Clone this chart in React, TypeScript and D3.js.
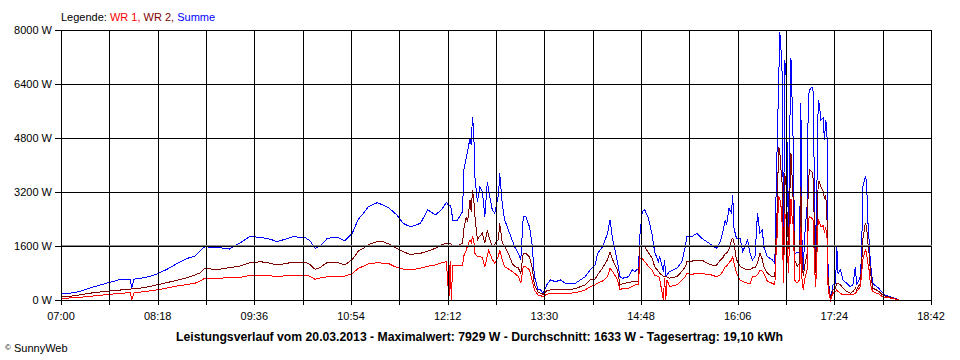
import React from 'react';
import * as d3 from 'd3';

// minutes after 07:00
const minutes = [
  0, 7, 15, 26, 37, 48, 56, 57, 59, 64, 72, 77, 86, 94, 102, 108, 112, 116, 123, 130,
  136, 144, 152, 161, 169, 174, 181, 187, 197, 201, 205, 209, 215, 223, 229, 235, 240, 244, 248, 255,
  260, 265, 271, 276, 282, 290, 296, 302, 307, 311, 313, 314, 315, 316, 320, 324, 325, 327, 328, 330,
  331, 332, 333, 334, 336, 338, 340, 342, 344, 345, 348, 350, 353, 354, 356, 358, 361, 364, 366, 369,
  371, 373, 375, 378, 380, 382, 385, 387, 389, 392, 395, 399, 403, 407, 411, 415, 419, 423, 427, 431,
  433, 437, 441, 443, 445, 449, 451, 453, 458, 461, 463, 466, 467, 469, 471, 474, 477, 479, 482, 483,
  486, 487, 488, 489, 491, 497, 501, 504, 505, 509, 513, 517, 521, 525, 529, 532, 534, 536, 537, 539,
  541, 542, 543, 545, 548, 550, 554, 556, 558, 560, 562, 564, 566, 567, 570, 574, 576, 577, 578, 579,
  580, 581, 582, 583, 584, 585, 587, 588, 589, 590, 591, 592, 594, 596, 597, 598, 599, 600, 602, 603,
  604, 606, 607, 608, 609, 611, 612, 613, 615, 616, 617, 618, 619, 621, 623, 625, 626, 627, 629, 631,
  634, 637, 639, 641, 642, 645, 646, 647, 649, 650, 651, 652, 653, 654, 655, 658, 660, 662, 665, 669,
  675, 676,
];

const summe = [
  180, 200, 250, 385, 500, 610, 620, 330, 620, 640, 700, 760, 920, 1090, 1235, 1300, 1450, 1580, 1550, 1540,
  1510, 1680, 1875, 1860, 1800, 1730, 1800, 1875, 1850, 1750, 1530, 1600, 1830, 1860, 1750, 1975, 2400, 2570, 2765, 2880,
  2815, 2715, 2520, 2270, 2170, 2270, 2670, 2520, 2670, 2895, 2800, 2800, 2700, 2370, 2370, 2615, 3850, 4200, 4395, 4790,
  4600, 5430, 5040, 3650, 2910, 3360, 3210, 2470, 3500, 3260, 2670, 2570, 3110, 3750, 2865, 2370, 2075, 1778, 1580, 1383,
  1185, 2470, 2470, 2170, 1700, 700, 300, 300, 200, 450, 593, 543, 593, 494, 500, 494, 593, 690, 890, 1037,
  1383, 1580, 1975, 2370, 1830, 1135, 690, 643, 690, 890, 840, 940, 1875, 2615, 2670, 2420, 1925, 1430, 1135, 1300,
  840, 1185, 740, 740, 840, 940, 1135, 1630, 1875, 1875, 1975, 1830, 1730, 1630, 1530, 1730, 2025, 2370, 2220, 2715,
  2570, 3110, 2130, 1830, 1830, 1430, 1778, 1383, 1185, 1300, 2570, 1975, 2075, 1580, 1283, 1185, 1087, 3160, 4790, 6320,
  7929, 7410, 6620, 1580, 7110, 6670, 1875, 4940, 7160, 5830, 4350, 1383, 1400, 1400, 5830, 1400, 890, 1875, 2765, 6025,
  6220, 6320, 6170, 3000, 1100, 5925, 5800, 5330, 5400, 4740, 5300, 5235, 593, 50, 450, 500, 1580, 790, 890, 593,
  494, 395, 450, 990, 450, 690, 1383, 3360, 3650, 3555, 2370, 1800, 1185, 790, 494, 395, 346, 250, 150, 100,
  20, 0,
];

const wr2 = [
  100, 110, 150, 215, 260, 296, 320, 330, 335, 350, 400, 445, 520, 590, 660, 740, 800, 940, 910, 920,
  960, 1000, 1100, 1135, 1090, 1037, 1080, 1117, 1117, 1050, 910, 960, 1117, 1117, 1037, 1200, 1450, 1530, 1640, 1730,
  1730, 1650, 1530, 1430, 1350, 1383, 1450, 1530, 1630, 1680, 1680, 1680, 1650, 1580, 1600, 1680, 2100, 2470, 2300, 2960,
  2600, 3260, 3000, 2470, 1778, 1900, 1975, 1680, 2075, 1900, 1580, 1650, 1800, 2270, 1700, 1580, 1383, 1087, 1000, 950,
  790, 1383, 1383, 1283, 1000, 450, 220, 200, 170, 280, 300, 300, 300, 300, 320, 330, 395, 450, 593, 620,
  750, 950, 1200, 1430, 1200, 890, 445, 480, 520, 543, 543, 560, 1580, 1600, 1580, 1400, 1235, 990, 850, 800,
  700, 700, 690, 680, 650, 690, 850, 1000, 1135, 1150, 1185, 1185, 1100, 1037, 1037, 1185, 1250, 1383, 1380, 1500,
  1778, 1830, 1700, 1200, 1000, 950, 890, 900, 950, 950, 1100, 1383, 1200, 1000, 790, 690, 690, 1875, 2800, 4540,
  4400, 3850, 3400, 1100, 3750, 3400, 1500, 3000, 4345, 3600, 2800, 1185, 1000, 1100, 3360, 1100, 700, 1000, 1383, 3500,
  3850, 3800, 3555, 2000, 800, 3500, 3500, 3360, 3210, 3000, 3110, 2570, 500, 20, 300, 350, 500, 500, 450, 350,
  250, 200, 250, 350, 300, 500, 990, 1800, 2270, 2200, 1700, 1383, 900, 593, 350, 296, 250, 180, 120, 80,
  20, 0,
];

const wr1 = [
  50, 60, 80, 118, 160, 200, 215, 0, 220, 235, 270, 296, 360, 415, 460, 494, 560, 642, 640, 650,
  660, 662, 730, 740, 720, 691, 720, 740, 740, 700, 612, 650, 691, 700, 711, 780, 940, 1000, 1067, 1106,
  1090, 1067, 960, 920, 890, 940, 1000, 1037, 1100, 1135, 0, 1150, 0, 1037, 1037, 1037, 1300, 1480, 1600, 1778,
  1700, 1875, 1800, 1383, 1283, 1300, 1250, 990, 1300, 1480, 1200, 1087, 1300, 1480, 1200, 990, 920, 850, 790, 700,
  494, 990, 990, 890, 600, 300, 150, 130, 100, 170, 200, 200, 200, 200, 200, 220, 247, 300, 395, 450,
  500, 560, 690, 940, 850, 600, 296, 346, 346, 400, 445, 445, 1235, 1235, 1135, 1000, 890, 740, 700, 650,
  0, 650, 0, 600, 395, 450, 593, 700, 790, 760, 790, 790, 760, 740, 690, 750, 850, 990, 1000, 1100,
  1185, 1283, 1100, 800, 593, 550, 494, 494, 690, 690, 750, 890, 850, 800, 550, 494, 445, 1383, 2000, 3060,
  3000, 2765, 2200, 500, 2570, 2400, 800, 2000, 3000, 2400, 2170, 593, 500, 600, 2170, 500, 300, 600, 900, 2400,
  2470, 2420, 2370, 1000, 400, 2400, 2300, 2170, 2200, 2000, 2130, 1975, 300, 0, 200, 250, 300, 250, 200, 150,
  150, 150, 150, 200, 250, 395, 800, 1185, 1480, 1400, 1100, 900, 500, 350, 250, 200, 180, 120, 80, 60,
  10, 0,
];

const yTicks = [0, 1600, 3200, 4800, 6400, 8000];
const xTickLabels = ['07:00', '08:18', '09:36', '10:54', '12:12', '13:30', '14:48', '16:06', '17:24', '18:42'];
const averageW = 1633;
const titleText =
  'Leistungsverlauf vom 20.03.2013 - Maximalwert: 7929 W - Durchschnitt: 1633 W - Tagesertrag: 19,10 kWh';

const FONT = '"Liberation Sans", Arial, sans-serif';

export default function App() {
  const W = 960;
  const H = 360;
  const x = d3.scaleLinear().domain([0, 702]).range([61, 931]);
  const y = d3.scaleLinear().domain([0, 8000]).range([300, 30]);
  const gridMinutes = d3.range(0, 703, 39);
  const labelMinutes = d3.range(0, 703, 78);
  const px = (v: number) => Math.round(v) + 0.5;

  const mkLine = (vals: number[]) =>
    d3
      .line<number>()
      .x((_, i) => x(minutes[i]))
      .y((v) => y(v))(vals) || '';

  const series = [
    { vals: summe, color: '#0000ff' },
    { vals: wr2, color: '#800000' },
    { vals: wr1, color: '#ff0000' },
  ];

  return (
    <svg
      width={W}
      height={H}
      style={{ position: 'absolute', left: 0, top: 0, background: '#fff', display: 'block' }}
      fontFamily={FONT}
    >
      <rect x={0} y={0} width={W} height={H} fill="#fff" />
      {series.map((s, i) => (
        <path key={i} d={mkLine(s.vals)} fill="none" stroke={s.color} strokeWidth={1} shapeRendering="crispEdges" />
      ))}
      {/* grid */}
      <g shapeRendering="crispEdges" stroke="#000" strokeWidth={1}>
        {gridMinutes.map((m) => (
          <line key={'v' + m} x1={px(x(m))} x2={px(x(m))} y1={px(y(8000))} y2={305} />
        ))}
        {yTicks.map((t) => (
          <line key={'h' + t} x1={55} x2={px(x(702)) + 0.5} y1={px(y(t))} y2={px(y(t))} />
        ))}
      </g>
      <line
        x1={px(x(0))}
        x2={px(x(702))}
        y1={px(y(averageW))}
        y2={px(y(averageW))}
        stroke="#8c8c8c"
        strokeWidth={1}
        shapeRendering="crispEdges"
      />
      {yTicks.map((t) => (
        <text key={'yl' + t} x={52} y={y(t) + 4} textAnchor="end" fontSize={11} fill="#000">
          {t} W
        </text>
      ))}
      {labelMinutes.map((m, i) => (
        <text key={'xl' + m} x={x(m)} y={320} textAnchor="middle" fontSize={11} fill="#000">
          {xTickLabels[i]}
        </text>
      ))}
      <text x={61} y={21} fontSize={11}>
        <tspan fill="#000">Legende: </tspan>
        <tspan fill="#ff0000">WR 1,</tspan>
        <tspan fill="#800000"> WR 2,</tspan>
        <tspan fill="#0000ff"> Summe</tspan>
      </text>
      <text
        x={176}
        y={341}
        fontSize={12}
        fontWeight="bold"
        textLength={607}
        lengthAdjust="spacingAndGlyphs"
        fill="#000"
      >
        {titleText}
      </text>
      <text x={5} y={352} fontSize={11} fill="#000">
        <tspan fontSize={8} dy={-2}>©</tspan>
        <tspan dy={2}> SunnyWeb</tspan>
      </text>
    </svg>
  );
}
